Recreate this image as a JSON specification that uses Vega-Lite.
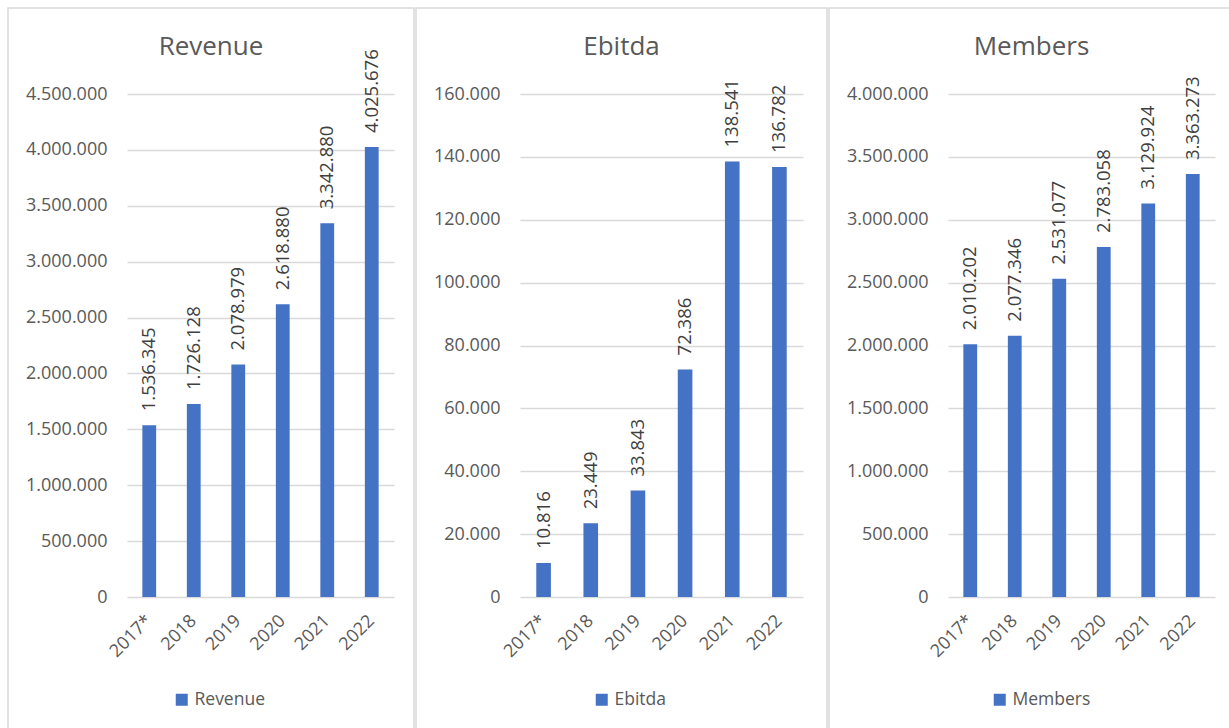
{
  "$schema": "https://vega.github.io/schema/vega-lite/v6.json",
  "padding": {"left": 7, "top": 7, "right": 0, "bottom": 0},
  "background": "white",
  "data": {
    "values": [
      {"year": "2017*", "revenue": 1536345, "ebitda": 10816, "members": 2010202},
      {"year": "2018", "revenue": 1726128, "ebitda": 23449, "members": 2077346},
      {"year": "2019", "revenue": 2078979, "ebitda": 33843, "members": 2531077},
      {"year": "2020", "revenue": 2618880, "ebitda": 72386, "members": 2783058},
      {"year": "2021", "revenue": 3342880, "ebitda": 138541, "members": 3129924},
      {"year": "2022", "revenue": 4025676, "ebitda": 136782, "members": 3363273}
    ]
  },
  "config": {
    "locale": {"number": {"decimal": ",", "thousands": ".", "grouping": [3], "currency": ["", " €"]}},
    "concat": {"spacing": 0},
    "view": {"stroke": "#d9d9d9", "strokeWidth": 1.5},
    "font": "Open Sans",
    "axis": {
      "labelFont": "Open Sans",
      "labelColor": "#595959",
      "labelFontSize": 18,
      "ticks": false,
      "tickSize": 0,
      "domain": false,
      "title": null
    },
    "axisX": {"grid": false, "labelAngle": -45, "labelAlign": "right", "labelBaseline": "middle", "labelPadding": 21, "offset": -141},
    "axisY": {"grid": true, "gridColor": "#d9d9d9", "gridWidth": 1.5, "labelPadding": 20, "format": ",d"},
    "title": {"font": "Open Sans", "fontSize": 26, "fontWeight": "normal", "color": "#595959", "anchor": "middle", "baseline": "alphabetic", "offset": -52},
    "legend": {"orient": "none", "padding": 0, "symbolType": "square", "symbolSize": 144, "labelFont": "Open Sans", "labelFontSize": 17.5, "labelColor": "#595959", "title": null, "symbolStrokeWidth": 0},
    "text": {"font": "Open Sans", "fontSize": 18.5, "fill": "#404040"}
  },
  "hconcat": [
    {
      "width": 406,
      "height": 730,
      "title": "Revenue",
      "encoding": {
        "x": {"field": "year", "type": "ordinal", "sort": null, "scale": {"range": [119, 386], "paddingInner": 0.69, "paddingOuter": 0.345}},
        "y": {"field": "revenue", "type": "quantitative", "scale": {"domain": [0, 4500000], "range": [589, 86], "nice": false}, "axis": {"tickCount": 9, "offset": -119}}
      },
      "layer": [
        {"mark": {"type": "bar"}, "encoding": {"color": {"datum": "Revenue", "scale": {"range": ["#4472C4"]}, "legend": {"legendX": 165, "legendY": 683}}}},
        {"mark": {"type": "text", "angle": 270, "align": "left", "baseline": "middle", "dx": 14}, "encoding": {"text": {"field": "revenue", "type": "quantitative", "format": ",d"}}}
      ]
    },
    {
      "width": 411,
      "height": 730,
      "title": "Ebitda",
      "encoding": {
        "x": {"field": "year", "type": "ordinal", "sort": null, "scale": {"range": [104, 387], "paddingInner": 0.69, "paddingOuter": 0.345}},
        "y": {"field": "ebitda", "type": "quantitative", "scale": {"domain": [0, 160000], "range": [589, 86], "nice": false}, "axis": {"tickCount": 8, "offset": -104}}
      },
      "layer": [
        {"mark": {"type": "bar"}, "encoding": {"color": {"datum": "Ebitda", "scale": {"range": ["#4472C4"]}, "legend": {"legendX": 177, "legendY": 683}}}},
        {"mark": {"type": "text", "angle": 270, "align": "left", "baseline": "middle", "dx": 14}, "encoding": {"text": {"field": "ebitda", "type": "quantitative", "format": ",d"}}}
      ]
    },
    {
      "width": 405,
      "height": 730,
      "title": "Members",
      "encoding": {
        "x": {"field": "year", "type": "ordinal", "sort": null, "scale": {"range": [119, 386], "paddingInner": 0.69, "paddingOuter": 0.345}},
        "y": {"field": "members", "type": "quantitative", "scale": {"domain": [0, 4000000], "range": [589, 86], "nice": false}, "axis": {"tickCount": 8, "offset": -119}}
      },
      "layer": [
        {"mark": {"type": "bar"}, "encoding": {"color": {"datum": "Members", "scale": {"range": ["#4472C4"]}, "legend": {"legendX": 162, "legendY": 683}}}},
        {"mark": {"type": "text", "angle": 270, "align": "left", "baseline": "middle", "dx": 14}, "encoding": {"text": {"field": "members", "type": "quantitative", "format": ",d"}}}
      ]
    }
  ],
  "resolve": {"scale": {"color": "independent"}, "legend": {"color": "independent"}}
}
